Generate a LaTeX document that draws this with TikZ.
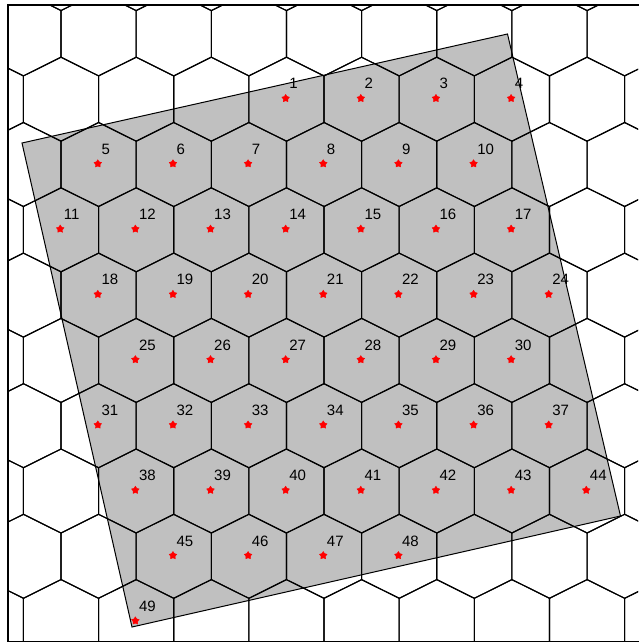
\documentclass[tikz,border=0pt]{standalone}
\usepackage{fontspec}
\setmainfont{Liberation Sans}
\usetikzlibrary{shapes.geometric}
\definecolor{sqgray}{RGB}{192,192,192}
\tikzset{
 hexline/.style={draw=black, line width=1.1},
 sqbox/.style={fill=sqgray, draw=black, line width=1},
 mk/.style={star, star points=5, star point ratio=1.7, fill=red, draw=red, line width=0.4, inner sep=0, minimum size=8},
 lb/.style={anchor=base west, inner sep=0, font=\fontsize{15}{18}\selectfont, text=black},
 framebox/.style={draw=black, line width=1.6},
}
\newcommand\cellmark[3]{%
 \pgfmathsetmacro\cx{61+75.15*#2+37.6*mod(#1,2)-0.8}%
 \pgfmathsetmacro\cy{99.2+65.3*#1-0.8}%
 \node[mk] (s#3) at (\cx,\cy) {};
 \node[lb] (l#3) at (\cx+3.5,\cy-9.5) {#3};
}
\begin{document}
\begin{tikzpicture}[x=1pt,y=-1pt]
\fill[white] (0,0) rectangle (638,643);
\useasboundingbox (0,0) rectangle (638,643);
\coordinate (TL) at (22,143);
\coordinate (TR) at (507.5,34);
\coordinate (BR) at (620.5,516);
\coordinate (BL) at (132,627);
\fill[sqgray] (TL) -- (TR) -- (BR) -- (BL) -- cycle;
\begin{scope}
\clip (8,5) rectangle (638,641.5);
\foreach \j in {-2,...,9}{
 \foreach \k in {-1,...,8}{
  \pgfmathsetmacro\hx{61+75.15*\k+37.6*mod(\j+4,2)}
  \pgfmathsetmacro\hy{99.2+65.3*\j}
  \draw[hexline] (\hx,\hy-42) -- (\hx+37.58,\hy-23.3) -- (\hx+37.58,\hy+23.3) -- (\hx,\hy+42) -- (\hx-37.58,\hy+23.3) -- (\hx-37.58,\hy-23.3) -- cycle;
 }}
\end{scope}
\draw[sqbox, fill=none] (TL) -- (TR) -- (BR) -- (BL) -- cycle;
% row 0
\cellmark{0}{3}{1}\cellmark{0}{4}{2}\cellmark{0}{5}{3}\cellmark{0}{6}{4}
% row 1
\cellmark{1}{0}{5}\cellmark{1}{1}{6}\cellmark{1}{2}{7}\cellmark{1}{3}{8}\cellmark{1}{4}{9}\cellmark{1}{5}{10}
% row 2
\cellmark{2}{0}{11}\cellmark{2}{1}{12}\cellmark{2}{2}{13}\cellmark{2}{3}{14}\cellmark{2}{4}{15}\cellmark{2}{5}{16}\cellmark{2}{6}{17}
% row 3
\cellmark{3}{0}{18}\cellmark{3}{1}{19}\cellmark{3}{2}{20}\cellmark{3}{3}{21}\cellmark{3}{4}{22}\cellmark{3}{5}{23}\cellmark{3}{6}{24}
% row 4
\cellmark{4}{1}{25}\cellmark{4}{2}{26}\cellmark{4}{3}{27}\cellmark{4}{4}{28}\cellmark{4}{5}{29}\cellmark{4}{6}{30}
% row 5
\cellmark{5}{0}{31}\cellmark{5}{1}{32}\cellmark{5}{2}{33}\cellmark{5}{3}{34}\cellmark{5}{4}{35}\cellmark{5}{5}{36}\cellmark{5}{6}{37}
% row 6
\cellmark{6}{1}{38}\cellmark{6}{2}{39}\cellmark{6}{3}{40}\cellmark{6}{4}{41}\cellmark{6}{5}{42}\cellmark{6}{6}{43}\cellmark{6}{7}{44}
% row 7
\cellmark{7}{1}{45}\cellmark{7}{2}{46}\cellmark{7}{3}{47}\cellmark{7}{4}{48}
% row 8
\cellmark{8}{1}{49}
\draw[framebox] (8,5) rectangle (642,641.5);
\end{tikzpicture}
\end{document}
